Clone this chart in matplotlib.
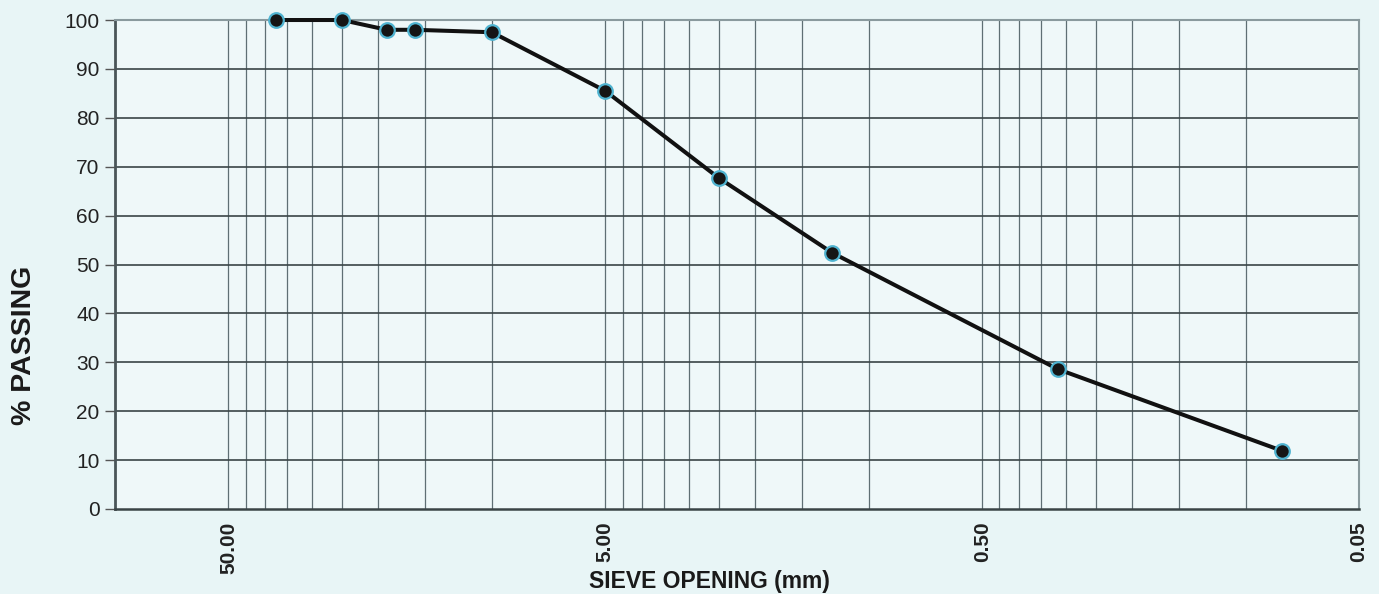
import matplotlib.pyplot as plt
import numpy as np
from matplotlib import ticker

plt.rcParams['font.family'] = ['Liberation Sans', 'DejaVu Sans']

# Sieve analysis data
sieve_mm = [37.5, 25.0, 19.0, 16.0, 10.0, 5.0, 2.5, 1.25, 0.315, 0.08]
passing = [100.0, 100.0, 98.0, 98.0, 97.5, 85.5, 67.7, 52.4, 28.6, 11.9]

x_labels = [50.0, 5.0, 0.5, 0.05]
y_ticks = list(range(0, 101, 10))

paper = '#e8f5f6'
grid_col = '#5f6f74'

fig = plt.figure(figsize=(13.79, 5.94), dpi=100, facecolor=paper)
ax = fig.add_axes([0.0834, 0.1431, 0.9021, 0.8232], facecolor='#eff8f9')

ax.set_xscale('log')
ax.set_xlim(100, 0.05)
ax.set_ylim(0, 100)

# grid lines: 0.5-steps within each decade (e.g. 5, 10, 15 ... 50)
grid_x = []
for dec in [0.01, 0.1, 1.0]:
    grid_x += [dec * k for k in np.arange(5, 50, 5)]
grid_x.append(50.0)
for gx in grid_x:
    ax.axvline(gx, color=grid_col, lw=0.9, zorder=1)
for gy in y_ticks[1:-1]:
    ax.axhline(gy, color='#3a4547', lw=1.2, zorder=1)

ax.plot(sieve_mm, passing, color='#111111', lw=2.9, zorder=3, clip_on=False,
        marker='o', markersize=10.5, markerfacecolor='#151515',
        markeredgecolor='#4fb3d0', markeredgewidth=1.6)

ax.xaxis.set_major_locator(ticker.FixedLocator(x_labels))
ax.xaxis.set_minor_locator(ticker.NullLocator())
ax.xaxis.set_major_formatter(ticker.FuncFormatter(lambda v, p: f'{v:.2f}'))
ax.tick_params(axis='x', length=0, pad=9, labelsize=15, labelrotation=90)
for lbl in ax.get_xticklabels():
    lbl.set_fontweight('bold')
    lbl.set_color('#222222')

ax.yaxis.set_major_locator(ticker.FixedLocator(y_ticks))
ax.tick_params(axis='y', length=7, width=1, color='#555555', direction='out',
               labelsize=15, labelcolor='#222222', pad=4)

for side in ['top', 'right']:
    ax.spines[side].set_color('#8a9a9e')
    ax.spines[side].set_linewidth(1.5)
ax.spines['left'].set_color('#4a5558')
ax.spines['left'].set_linewidth(2)
ax.spines['bottom'].set_color('#3a4446')
ax.spines['bottom'].set_linewidth(1.8)

ax.set_xlabel('SIEVE OPENING (mm)', fontsize=16.5, fontweight='bold',
              color='#1a1a1a')
ax.xaxis.set_label_coords(0.478, -0.149, transform=ax.transAxes)
ax.xaxis.label.set_va('center')
ax.set_ylabel('% PASSING', fontsize=20.5, fontweight='bold', color='#1a1a1a')
ax.yaxis.set_label_coords(-0.073, 0.335, transform=ax.transAxes)
ax.yaxis.label.set_va('center')

fig.savefig('out.png', dpi=100, facecolor=paper)
